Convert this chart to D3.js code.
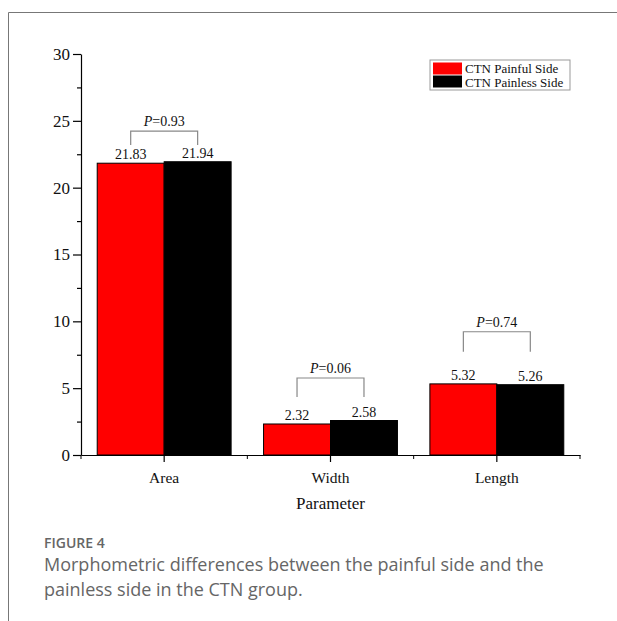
<!DOCTYPE html>
<html>
<head>
<meta charset="utf-8">
<script src="https://cdn.jsdelivr.net/npm/d3@7"></script>
<style>
  body { margin: 0; background: #fff; }
  svg { display: block; }
</style>
</head>
<body>
<div id="chart"></div>
<script>
const categories = ["Area", "Width", "Length"];
const seriesNames = ["CTN Painful Side", "CTN Painless Side"];
const painfulValues = [21.83, 2.32, 5.32];
const painlessValues = [21.94, 2.58, 5.26];
const pLabels = ["0.93", "0.06", "0.74"];
// bracket top / bottom in data units
const bracketTop = [24.23, 5.76, 9.22];
const bracketBottom = [23.19, 4.34, 7.73];
const yTicks = [0, 5, 10, 15, 20, 25, 30];
const yMinorTicks = [2.5, 7.5, 12.5, 17.5, 22.5, 27.5];

const width = 617, height = 621;
const colors = ["#ff0000", "#000000"];
const serif = "'Liberation Serif', 'Times New Roman', serif";

const svg = d3.select("#chart").append("svg")
  .attr("width", width)
  .attr("height", height);

// frame lines of the figure panel
svg.append("path")
  .attr("d", "M8.5,621 L8.5,12.5 L617,12.5")
  .attr("fill", "none")
  .attr("stroke", "#777")
  .attr("stroke-width", 1);

const x = d3.scaleBand()
  .domain(categories)
  .range([81, 580])
  .paddingInner(0.195)
  .paddingOuter(0.0975);

const x1 = d3.scaleBand()
  .domain(seriesNames)
  .range([0, x.bandwidth()]);

const y = d3.scaleLinear().domain([0, 30]).range([455, 54]);

// bars
const rows = categories.map((c, i) => ({
  cat: c,
  vals: [painfulValues[i], painlessValues[i]]
}));

rows.forEach((r) => {
  r.vals.forEach((v, j) => {
    svg.append("rect")
      .attr("x", x(r.cat) + x1(seriesNames[j]))
      .attr("y", y(v))
      .attr("width", x1.bandwidth())
      .attr("height", y(0) - y(v))
      .attr("fill", colors[j])
      .attr("stroke", "#000")
      .attr("stroke-width", 1);

    svg.append("text")
      .attr("x", x(r.cat) + x1(seriesNames[j]) + x1.bandwidth() / 2)
      .attr("y", y(v) - 4)
      .attr("text-anchor", "middle")
      .style("font-family", serif)
      .style("font-size", "14px")
      .attr("fill", "#111")
      .text(v.toFixed(2));
  });
});

// significance brackets
categories.forEach((c, i) => {
  const xa = x(c) + x1(seriesNames[0]) + x1.bandwidth() / 2;
  const xb = x(c) + x1(seriesNames[1]) + x1.bandwidth() / 2;
  const yt = y(bracketTop[i]);
  const yb = y(bracketBottom[i]);
  svg.append("path")
    .attr("d", `M${xa},${yb} L${xa},${yt} L${xb},${yt} L${xb},${yb}`)
    .attr("fill", "none")
    .attr("stroke", "#888")
    .attr("stroke-width", 1.2);

  const t = svg.append("text")
    .attr("x", (xa + xb) / 2)
    .attr("y", yt - 5)
    .attr("text-anchor", "middle")
    .style("font-family", serif)
    .style("font-size", "14px")
    .attr("fill", "#111");
  t.append("tspan").attr("font-style", "italic").text("P");
  t.append("tspan").text("=" + pLabels[i]);
});

// y axis
const yAxis = svg.append("g")
  .attr("transform", "translate(81,0)")
  .call(d3.axisLeft(y).tickValues(yTicks).tickSize(8).tickSizeOuter(0).tickPadding(3));
yAxis.selectAll("text")
  .style("font-family", serif)
  .style("font-size", "17px")
  .attr("fill", "#111");

svg.append("g")
  .attr("transform", "translate(81,0)")
  .call(d3.axisLeft(y).tickValues(yMinorTicks).tickSize(4).tickFormat(""))
  .select(".domain").remove();

// x axis
const xAxis = svg.append("g")
  .attr("transform", "translate(0,455)")
  .call(d3.axisBottom(x).tickSize(7).tickSizeOuter(0).tickPadding(10));
xAxis.selectAll("text")
  .style("font-family", serif)
  .style("font-size", "15.5px")
  .attr("fill", "#111");

const bounds = d3.range(categories.length + 1).map(i => x.range()[0] + i * x.step());
svg.append("g").selectAll("line")
  .data(bounds)
  .join("line")
  .attr("x1", d => d)
  .attr("x2", d => d)
  .attr("y1", 455)
  .attr("y2", 459)
  .attr("stroke", "#000");

svg.selectAll(".domain, .tick line").attr("stroke", "#000").attr("stroke-width", 1.2);

svg.append("text")
  .attr("x", (x.range()[0] + x.range()[1]) / 2)
  .attr("y", 509)
  .attr("text-anchor", "middle")
  .style("font-family", serif)
  .style("font-size", "17px")
  .attr("fill", "#111")
  .text("Parameter");

// legend
const legend = svg.append("g").attr("transform", "translate(430,60)");
legend.append("rect")
  .attr("width", 140)
  .attr("height", 30)
  .attr("fill", "#fff")
  .attr("stroke", "#999");
seriesNames.forEach((s, j) => {
  legend.append("rect")
    .attr("x", 3)
    .attr("y", 2.5 + j * 13)
    .attr("width", 29)
    .attr("height", 12)
    .attr("fill", colors[j]);
  legend.append("text")
    .attr("x", 35)
    .attr("y", 12.5 + j * 14.5)
    .style("font-family", serif)
    .style("font-size", "13px")
    .attr("fill", "#111")
    .text(s);
});

// caption
svg.append("text")
  .attr("x", 44)
  .attr("y", 548)
  .style("font-family", "'Open Sans', sans-serif")
  .style("font-size", "14px")
  .attr("font-weight", "600")
  .attr("fill", "#666")
  .text("FIGURE 4");

const captionLines = [
  "Morphometric differences between the painful side and the",
  "painless side in the CTN group."
];
captionLines.forEach((line, i) => {
  svg.append("text")
    .attr("x", 44)
    .attr("y", 571 + i * 25)
    .style("font-family", "'Open Sans', sans-serif")
    .style("font-size", "18px")
    .attr("fill", "#666")
    .text(line);
});
</script>
</body>
</html>
